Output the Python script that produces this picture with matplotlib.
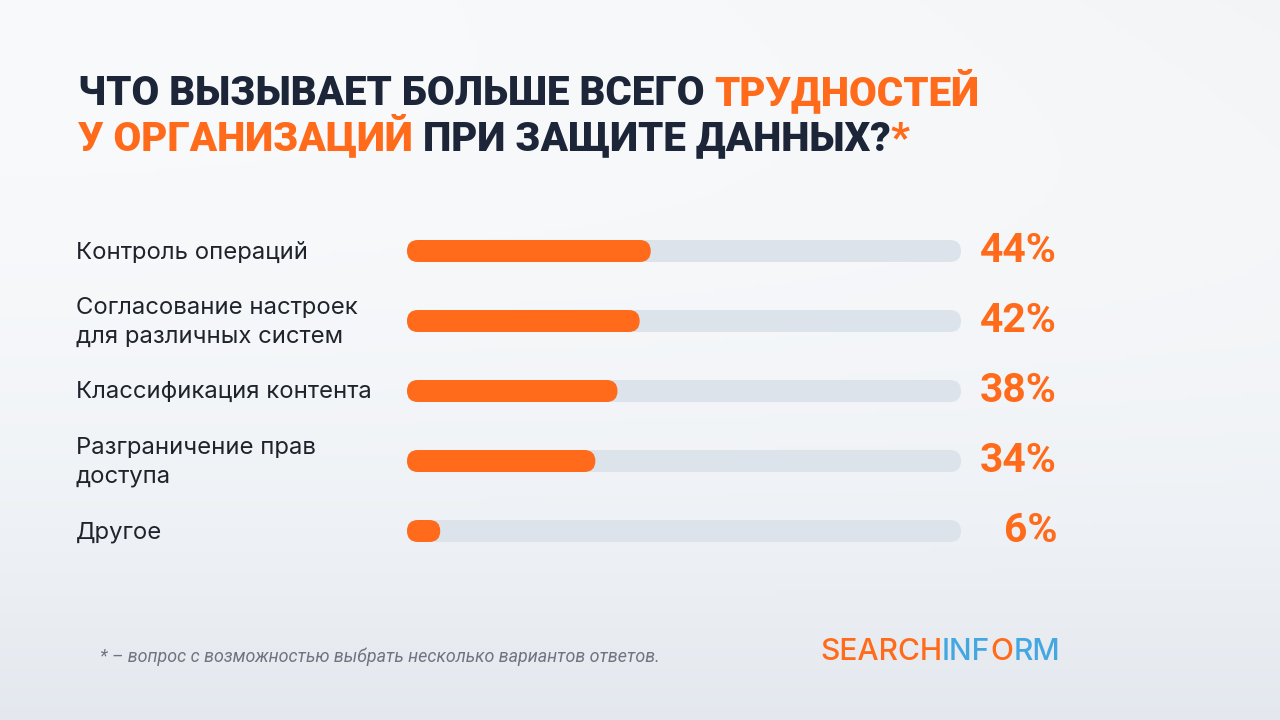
import matplotlib
matplotlib.use("Agg")
import matplotlib.pyplot as plt
from matplotlib.patches import FancyBboxPatch
import numpy as np

categories = ["Контроль операций",
              "Согласование настроек\nдля различных систем",
              "Классификация контента",
              "Разграничение прав\nдоступа",
              "Другое"]
values = [44, 42, 38, 34, 6]
value_labels = ["44%", "42%", "38%", "34%", "6%"]

title_line1 = [("ЧТО ВЫЗЫВАЕТ БОЛЬШЕ ВСЕГО ", "#1c2638"), ("ТРУДНОСТЕЙ", "#ff6b1a")]
title_line2 = [("У ОРГАНИЗАЦИЙ", "#ff6b1a"), (" ПРИ ЗАЩИТЕ ДАННЫХ?", "#1c2638"), ("*", "#ff6b1a")]
footnote = "* – вопрос с возможностью выбрать несколько вариантов ответов."

ORANGE = "#ff6b1a"
NAVY = "#1c2638"
TRACK = "#dde3eb"
BLUE = "#45a7e0"

W, H = 1280, 720
fig = plt.figure(figsize=(12.8, 7.2), dpi=100)

# background gradient
bg = fig.add_axes([0, 0, 1, 1], zorder=-10)
yy, xx = np.mgrid[0:1:200j, 0:1:356j]
base = 0.985 - 0.05 * yy ** 2.5 - 0.02 * (xx * (1 - yy)) ** 2
img = np.dstack([base - 0.012 - 0.03 * yy ** 2, base - 0.006 - 0.018 * yy ** 2, base])
img = np.clip(img, 0, 1)
bg.imshow(img, extent=[0, 1, 0, 1], aspect="auto", origin="upper")
bg.axis("off")

title_font = ["Roboto", "DejaVu Sans"]
renderer = fig.canvas.get_renderer()

def text_width(s, size, **kw):
    t = fig.text(0, 0, s, fontsize=size, **kw)
    w = t.get_window_extent(renderer=renderer).width
    t.remove()
    return w

# pick title size so line 1 spans ~902 px
full1 = "".join(s for s, _ in title_line1)
w30 = text_width(full1, 30, fontweight="heavy", family=title_font)
tsize = 30 * 902 / w30

def draw_segments(segments, x_px, base_px, size):
    x = x_px
    for txt, col in segments:
        t = fig.text(x / W, 1 - base_px / H, txt, color=col, fontsize=size,
                     fontweight="heavy", family=title_font, va="baseline", ha="left")
        bb = t.get_window_extent(renderer=renderer)
        x += bb.width

draw_segments(title_line1, 78, 105, tsize)
draw_segments(title_line2, 78, 150, tsize)

# bars axes
left_px, right_px = 407, 961
top_px, bot_px = 216, 566
ax = fig.add_axes([left_px / W, 1 - bot_px / H, (right_px - left_px) / W, (bot_px - top_px) / H])
ax.set_xlim(0, 100)
ax.set_ylim(len(values) - 0.5, -0.5)
ax.axis("off")
ax.patch.set_alpha(0)

px_per_x = (right_px - left_px) / 100.0
px_per_y = (bot_px - top_px) / len(values)
bar_h = 22 / px_per_y
r_x = 11 / px_per_x
aspect = px_per_x / px_per_y

psize = 30 * 77 / text_width("44%", 30, fontweight="bold", family=title_font)

for i, v in enumerate(values):
    track = FancyBboxPatch((0, i - bar_h / 2), 100, bar_h,
                           boxstyle=f"round,pad=0,rounding_size={r_x}",
                           mutation_aspect=aspect, fc=TRACK, ec="none", zorder=1)
    ax.add_patch(track)
    bar = FancyBboxPatch((0, i - bar_h / 2), v, bar_h,
                         boxstyle=f"round,pad=0,rounding_size={min(r_x, v/2)}",
                         mutation_aspect=aspect, fc=ORANGE, ec="none", zorder=2)
    ax.add_patch(bar)
    ax.text(-(407 - 76) / px_per_x, i + 0.02, categories[i], ha="left", va="center",
            fontsize=17.2, family=["Inter", "DejaVu Sans"], color="#1f232b",
            linespacing=1.35, clip_on=False)
    ax.text(100 + (1057 - 961) / px_per_x, i, value_labels[i], ha="right", va="center",
            fontsize=psize, fontweight="bold", family=title_font, color=ORANGE, clip_on=False)

# footnote
fig.text(100 / W, 1 - 657 / H, footnote, ha="left", va="center", fontsize=12.9,
         style="italic", family=["Roboto", "DejaVu Sans"], color="#6f7480")

# logo
lx = 820
for s, c in [("SEARCH", ORANGE), ("INF", BLUE), ("O", ORANGE), ("RM", BLUE)]:
    t = fig.text(lx / W, 1 - 652 / H, s, ha="left", va="center", fontsize=21.6,
                 fontweight="medium", family=["Inter", "DejaVu Sans"], color=c)
    lx += t.get_window_extent(renderer=renderer).width

fig.savefig("out.png", dpi=100)
